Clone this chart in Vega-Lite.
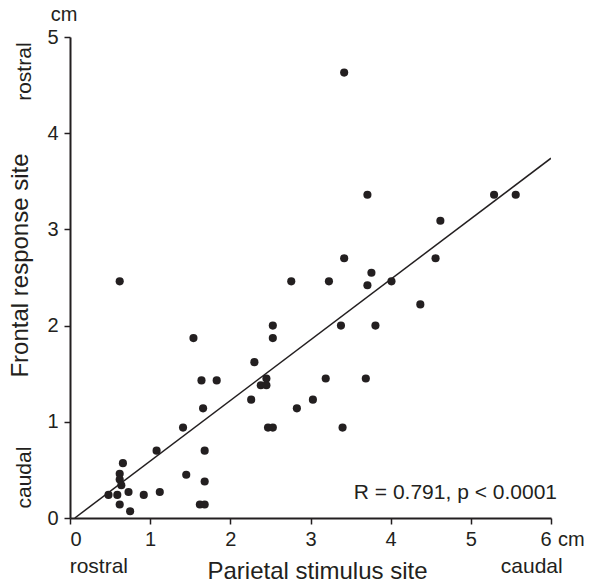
{
  "$schema": "https://vega.github.io/schema/vega-lite/v6.json",
  "autosize": "none",
  "width": 481,
  "height": 481,
  "padding": {"left": 70, "top": 37, "right": 42, "bottom": 67},
  "background": "white",
  "config": {
    "view": {"stroke": null},
    "font": "Liberation Sans",
    "text": {"font": "Liberation Sans", "color": "#231f20"}
  },
  "datasets": {
    "pts": [
      {"parietal": 3.42, "frontal": 4.63},
      {"parietal": 3.71, "frontal": 3.36},
      {"parietal": 5.29, "frontal": 3.36},
      {"parietal": 5.56, "frontal": 3.36},
      {"parietal": 4.62, "frontal": 3.09},
      {"parietal": 3.42, "frontal": 2.70},
      {"parietal": 4.56, "frontal": 2.70},
      {"parietal": 3.76, "frontal": 2.55},
      {"parietal": 2.76, "frontal": 2.46},
      {"parietal": 3.23, "frontal": 2.46},
      {"parietal": 3.71, "frontal": 2.42},
      {"parietal": 4.01, "frontal": 2.46},
      {"parietal": 0.62, "frontal": 2.46},
      {"parietal": 4.37, "frontal": 2.22},
      {"parietal": 2.53, "frontal": 2.00},
      {"parietal": 3.38, "frontal": 2.00},
      {"parietal": 3.81, "frontal": 2.00},
      {"parietal": 1.54, "frontal": 1.87},
      {"parietal": 2.53, "frontal": 1.87},
      {"parietal": 2.30, "frontal": 1.62},
      {"parietal": 1.64, "frontal": 1.43},
      {"parietal": 1.83, "frontal": 1.43},
      {"parietal": 2.45, "frontal": 1.45},
      {"parietal": 2.38, "frontal": 1.38},
      {"parietal": 2.45, "frontal": 1.38},
      {"parietal": 3.19, "frontal": 1.45},
      {"parietal": 3.69, "frontal": 1.45},
      {"parietal": 2.26, "frontal": 1.23},
      {"parietal": 3.03, "frontal": 1.23},
      {"parietal": 1.66, "frontal": 1.14},
      {"parietal": 2.83, "frontal": 1.14},
      {"parietal": 1.41, "frontal": 0.94},
      {"parietal": 2.47, "frontal": 0.94},
      {"parietal": 2.53, "frontal": 0.94},
      {"parietal": 3.40, "frontal": 0.94},
      {"parietal": 1.08, "frontal": 0.70},
      {"parietal": 1.68, "frontal": 0.70},
      {"parietal": 0.66, "frontal": 0.57},
      {"parietal": 0.62, "frontal": 0.46},
      {"parietal": 0.62, "frontal": 0.40},
      {"parietal": 0.64, "frontal": 0.34},
      {"parietal": 1.45, "frontal": 0.45},
      {"parietal": 1.68, "frontal": 0.38},
      {"parietal": 0.48, "frontal": 0.24},
      {"parietal": 0.59, "frontal": 0.24},
      {"parietal": 0.73, "frontal": 0.27},
      {"parietal": 0.92, "frontal": 0.24},
      {"parietal": 1.12, "frontal": 0.27},
      {"parietal": 0.62, "frontal": 0.14},
      {"parietal": 0.75, "frontal": 0.07},
      {"parietal": 1.62, "frontal": 0.14},
      {"parietal": 1.68, "frontal": 0.14}
    ],
    "fit": [
      {"parietal": 0.06, "frontal": 0},
      {"parietal": 6.0, "frontal": 3.74}
    ],
    "one": [{}]
  },
  "layer": [
    {
      "data": {"name": "fit"},
      "mark": {"type": "line", "color": "#231f20", "strokeWidth": 1.5, "clip": true},
      "encoding": {
        "x": {
          "field": "parietal", "type": "quantitative",
          "scale": {"domain": [0, 6], "nice": false, "zero": false},
          "axis": {
            "values": [0, 1, 2, 3, 4, 5, 6],
            "format": "d",
            "grid": false,
            "domainColor": "#231f20", "domainWidth": 2,
            "tickColor": "#231f20", "tickWidth": 1.5, "tickSize": 6,
            "labelFontSize": 20, "labelColor": "#231f20", "labelPadding": 5,
            "labelFont": "Liberation Sans",
            "title": "Parietal stimulus site",
            "titleFont": "Liberation Sans", "titleFontSize": 24, "titleFontWeight": "normal",
            "titleColor": "#231f20",
            "titleX": 247, "titleY": 60, "titleAnchor": "middle", "titleAlign": "center",
            "titleBaseline": "alphabetic"
          }
        },
        "y": {
          "field": "frontal", "type": "quantitative",
          "scale": {"domain": [0, 5], "nice": false, "zero": false},
          "axis": {
            "values": [0, 1, 2, 3, 4, 5],
            "format": "d",
            "grid": false,
            "domainColor": "#231f20", "domainWidth": 2,
            "tickColor": "#231f20", "tickWidth": 1.5, "tickSize": 6,
            "labelFontSize": 20, "labelColor": "#231f20", "labelPadding": 6,
            "labelFont": "Liberation Sans",
            "title": "Frontal response site",
            "titleFont": "Liberation Sans", "titleFontSize": 24, "titleFontWeight": "normal",
            "titleColor": "#231f20",
            "titleX": -50, "titleY": 228, "titleAngle": 270, "titleAlign": "center",
            "titleBaseline": "middle"
          }
        }
      }
    },
    {
      "data": {"name": "pts"},
      "mark": {"type": "circle", "color": "#231f20", "opacity": 1, "size": 66},
      "encoding": {
        "x": {"field": "parietal", "type": "quantitative"},
        "y": {"field": "frontal", "type": "quantitative"}
      }
    },
    {
      "data": {"name": "one"},
      "mark": {"type": "text", "text": "R = 0.791, p < 0.0001", "fontSize": 21, "align": "right", "baseline": "alphabetic", "dx": 6, "dy": -19},
      "encoding": {"x": {"datum": 6}, "y": {"datum": 0}}
    },
    {
      "data": {"name": "one"},
      "mark": {"type": "text", "text": "cm", "fontSize": 20, "align": "left", "baseline": "alphabetic", "dx": 7, "dy": 28},
      "encoding": {"x": {"datum": 6}, "y": {"datum": 0}}
    },
    {
      "data": {"name": "one"},
      "mark": {"type": "text", "text": "cm", "fontSize": 20, "align": "center", "baseline": "alphabetic", "dx": -6, "dy": -16},
      "encoding": {"x": {"datum": 0}, "y": {"datum": 5}}
    },
    {
      "data": {"name": "one"},
      "mark": {"type": "text", "text": "rostral", "fontSize": 21, "align": "center", "baseline": "alphabetic", "dy": 55},
      "encoding": {"x": {"datum": 0.36}, "y": {"datum": 0}}
    },
    {
      "data": {"name": "one"},
      "mark": {"type": "text", "text": "caudal", "fontSize": 21, "align": "center", "baseline": "alphabetic", "dy": 55},
      "encoding": {"x": {"datum": 5.76}, "y": {"datum": 0}}
    },
    {
      "data": {"name": "one"},
      "mark": {"type": "text", "text": "rostral", "fontSize": 21, "angle": 270, "align": "center", "baseline": "middle", "dy": -45},
      "encoding": {"x": {"datum": 0}, "y": {"datum": 4.64}}
    },
    {
      "data": {"name": "one"},
      "mark": {"type": "text", "text": "caudal", "fontSize": 21, "angle": 270, "align": "center", "baseline": "middle", "dy": -45},
      "encoding": {"x": {"datum": 0}, "y": {"datum": 0.42}}
    }
  ]
}
